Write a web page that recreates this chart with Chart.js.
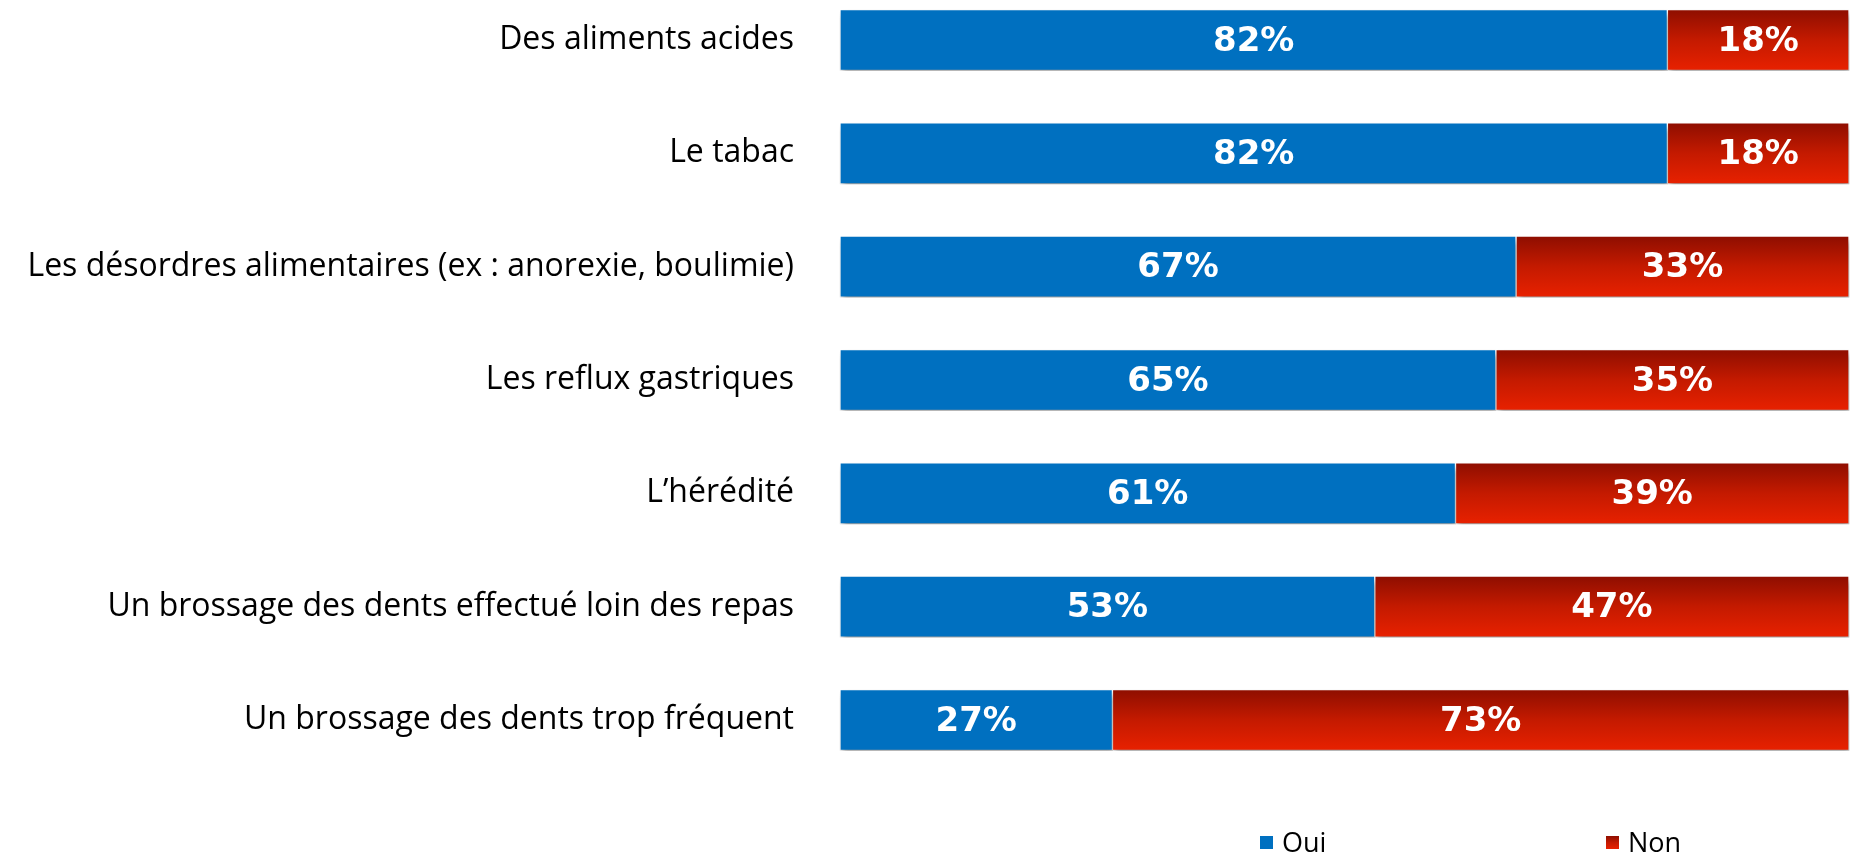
<!DOCTYPE html>
<html>
<head>
<meta charset="utf-8">
<script src="https://cdn.jsdelivr.net/npm/chart.js@4.4.1/dist/chart.umd.min.js"></script>
<style>
  html, body { margin: 0; padding: 0; background: #fff; }
</style>
</head>
<body>
<canvas id="chart" width="1856" height="855"></canvas>
<script>
const categories = [
  'Des aliments acides',
  'Le tabac',
  'Les désordres alimentaires (ex : anorexie, boulimie)',
  'Les reflux gastriques',
  'L’hérédité',
  'Un brossage des dents effectué loin des repas',
  'Un brossage des dents trop fréquent'
]
const ouiValues = [82, 82, 67, 65, 61, 53, 27]
const nonValues = [18, 18, 33, 35, 39, 47, 73]
const seriesNames = ['Oui', 'Non']

const labelFamily = "'Open Sans', 'Noto Sans', sans-serif"
const valueFont = "bold 34px 'DejaVu Sans', Verdana, sans-serif"
const barThickness = 61

function redGradient(ctx, top, bottom) {
  const g = ctx.createLinearGradient(0, top, 0, bottom)
  g.addColorStop(0, '#8e0e00')
  g.addColorStop(0.5, '#c41a00')
  g.addColorStop(1, '#e82100')
  return g
}

// bars with shadow + white value labels
const barDecor = {
  id: 'barDecor',
  beforeDatasetsDraw(chart) {
    const ctx = chart.ctx
    ctx.save()
    ctx.shadowColor = 'rgba(0, 0, 0, 0.4)'
    ctx.shadowBlur = 6
    ctx.shadowOffsetX = 2
    ctx.shadowOffsetY = 5
  },
  afterDatasetsDraw(chart) {
    const ctx = chart.ctx
    ctx.restore()
    ctx.save()
    ctx.font = valueFont
    ctx.fillStyle = '#fff'
    ctx.textAlign = 'center'
    ctx.textBaseline = 'middle'
    chart.data.datasets.forEach((dataset, i) => {
      chart.getDatasetMeta(i).data.forEach((bar, j) => {
        const { x, y } = bar.getCenterPoint()
        ctx.fillText(dataset.data[j] + '%', x, y + 2)
      })
    })
    ctx.restore()
  }
}

// legend spread out like the original
const wideLegend = {
  id: 'wideLegend',
  afterDraw(chart) {
    const ctx = chart.ctx
    const starts = [1260, 1606]
    ctx.save()
    ctx.font = '27px ' + labelFamily
    ctx.textBaseline = 'alphabetic'
    ctx.textAlign = 'left'
    chart.data.datasets.forEach((dataset, i) => {
      const x = starts[i]
      ctx.fillStyle = i === 0 ? dataset.backgroundColor : redGradient(ctx, 836, 849)
      ctx.fillRect(x, 836, 13, 13)
      ctx.fillStyle = '#000'
      ctx.fillText(dataset.label, x + 22, 852)
    })
    ctx.restore()
  }
}

new Chart(document.getElementById('chart').getContext('2d'), {
  type: 'bar',
  data: {
    labels: categories,
    datasets: [
      {
        label: seriesNames[0],
        data: ouiValues,
        backgroundColor: '#0070c0',
        borderColor: '#ffffff',
        borderWidth: 1,
        borderSkipped: false,
        barThickness: barThickness,
        clip: false
      },
      {
        label: seriesNames[1],
        data: nonValues,
        backgroundColor: (context) => {
          const chart = context.chart
          const yScale = chart.scales.y
          if (!chart.chartArea || !yScale || context.dataIndex === undefined) return '#c41a00'
          const y = yScale.getPixelForValue(context.dataIndex)
          return redGradient(chart.ctx, y - barThickness / 2, y + barThickness / 2)
        },
        borderColor: '#ffffff',
        borderWidth: 1,
        borderSkipped: false,
        barThickness: barThickness,
        clip: false
      }
    ]
  },
  options: {
    indexAxis: 'y',
    responsive: false,
    animation: false,
    layout: {
      padding: { top: 40, bottom: 135, left: 0, right: 7 }
    },
    plugins: {
      legend: { display: false },
      tooltip: { enabled: false }
    },
    scales: {
      x: {
        stacked: true,
        min: 0,
        max: 100,
        display: false
      },
      y: {
        stacked: true,
        offset: false,
        grid: { display: false, drawTicks: false },
        border: { display: false },
        ticks: {
          color: '#000',
          padding: 46,
          font: {
            family: labelFamily,
            size: 32
          }
        },
        afterFit: (scale) => {
          scale.width = 840
          // labels shouldn't push the chart area down
          scale.paddingTop = 0
          scale.paddingBottom = 0
        }
      }
    }
  },
  plugins: [barDecor, wideLegend]
})
</script>
</body>
</html>
